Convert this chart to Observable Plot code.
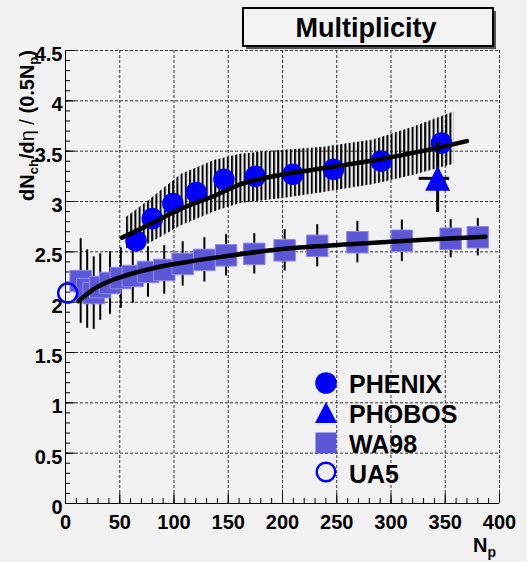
<!DOCTYPE html>
<html><head><meta charset="utf-8">
<script src="https://cdn.jsdelivr.net/npm/d3@7"></script>
<script src="https://cdn.jsdelivr.net/npm/@observablehq/plot@0.6"></script>
<style>
html,body{margin:0;padding:0;background:#f1f1f1;}
#chart{position:relative;width:527px;height:562px;}
svg{display:block}
</style></head><body><div id="chart"></div>
<script>
// ---- data ----
const xTicks = [0, 50, 100, 150, 200, 250, 300, 350, 400];
const xTickLabels = ["0", "50", "100", "150", "200", "250", "300", "350", "400"];
const yTicks = [0, 0.5, 1, 1.5, 2, 2.5, 3, 3.5, 4, 4.5];
const yTickLabels = ["0", "0.5", "1", "1.5", "2", "2.5", "3", "3.5", "4", "4.5"];

const phenixNp = [65, 80, 99, 120.5, 146, 175, 209.5, 247, 291, 346.5];
const phenixY  = [2.61, 2.83, 2.98, 3.09, 3.22, 3.25, 3.27, 3.32, 3.40, 3.58];

const bandNp = [56, 77, 107, 138, 161, 201, 238, 284, 321, 358];
const bandLo = [2.53, 2.58, 2.76, 2.90, 2.98, 3.03, 3.09, 3.17, 3.26, 3.37];
const bandHi = [2.84, 3.01, 3.27, 3.41, 3.47, 3.51, 3.54, 3.61, 3.74, 3.89];

const phenixFitNp = [52, 77, 107, 138, 161, 201, 247, 290, 333, 370];
const phenixFitY  = [2.64, 2.77, 2.93, 3.06, 3.17, 3.27, 3.345, 3.42, 3.51, 3.60];

const phobosNp = [343];
const phobosY = [3.23];
const phobosYLo = [2.89];
const phobosYHi = [3.59];
const phobosNpLo = [326];
const phobosNpHi = [354];

const wa98Np  = [14, 20, 26, 32, 41, 51, 62, 76, 91, 108, 128, 148, 174, 202, 232, 269, 310, 355, 380];
const wa98Y   = [2.21, 2.13, 2.09, 2.15, 2.19, 2.24, 2.26, 2.30, 2.32, 2.38, 2.42, 2.465, 2.48, 2.515, 2.56, 2.595, 2.61, 2.63, 2.645];
const wa98Err = [0.42, 0.39, 0.36, 0.33, 0.31, 0.30, 0.27, 0.25, 0.24, 0.22, 0.22, 0.205, 0.20, 0.205, 0.21, 0.205, 0.205, 0.19, 0.185];

const wa98FitNp = [12, 26, 42, 57, 88, 118, 143, 207, 269, 330, 387];
const wa98FitY  = [2.01, 2.13, 2.215, 2.27, 2.355, 2.41, 2.45, 2.535, 2.58, 2.62, 2.65];

const ua5Np = [2];
const ua5Y = [2.09];

const legendLabels = ["PHENIX", "PHOBOS", "WA98", "UA5"];

// ---- tables ----
const phenix = phenixNp.map((x, i) => ({x, y: phenixY[i]}));
const band = bandNp.map((x, i) => ({x, lo: bandLo[i], hi: bandHi[i]}));
const phenixFit = phenixFitNp.map((x, i) => ({x, y: phenixFitY[i]}));
const phobos = phobosNp.map((x, i) => ({x, y: phobosY[i], lo: phobosYLo[i], hi: phobosYHi[i], xlo: phobosNpLo[i], xhi: phobosNpHi[i]}));
const wa98 = wa98Np.map((x, i) => ({x, y: wa98Y[i], lo: wa98Y[i] - wa98Err[i], hi: wa98Y[i] + wa98Err[i]}));
const wa98Fit = wa98FitNp.map((x, i) => ({x, y: wa98FitY[i]}));
const ua5 = ua5Np.map((x, i) => ({x, y: ua5Y[i]}));

const minorX = d3.range(0, 401, 10);
const minorY = d3.range(0, 46, 1).map(d => d / 10);

const BLUE = "#0000ff";
const SLATE = "#5b57d6";
const font = "'Liberation Sans', Arial, Helvetica, sans-serif";

const triSym = {draw(ctx, size) { const r = Math.sqrt(size / Math.PI); ctx.moveTo(0, -r); ctx.lineTo(r, r); ctx.lineTo(-r, r); ctx.closePath(); }};
const sqSym = {draw(ctx, size) { const r = Math.sqrt(size / Math.PI); ctx.rect(-r, -r, 2 * r, 2 * r); }};

const gridStyle = {stroke: "#333", strokeOpacity: 1, strokeWidth: 1, strokeDasharray: "3,2"};

const plot = Plot.plot({
  width: 527, height: 562,
  marginLeft: 65, marginRight: 28, marginTop: 50, marginBottom: 59,
  x: {domain: [0, 400]},
  y: {domain: [0, 4.5]},
  style: {background: "transparent", fontFamily: font, color: "#000", overflow: "visible"},
  marks: [
    () => {
      const defs = d3.create("svg:defs");
      const p = defs.append("pattern").attr("id", "hatch").attr("patternUnits", "userSpaceOnUse")
        .attr("width", 4.2).attr("height", 8);
      p.append("rect").attr("x", 0).attr("y", 0).attr("width", 2).attr("height", 8).attr("fill", "#000");
      return defs.node();
    },
    Plot.gridX(xTicks.slice(1), gridStyle),
    Plot.gridY(yTicks.slice(1), gridStyle),
    Plot.ruleX([0], {stroke: "#000", strokeWidth: 1}),
    Plot.ruleY([0], {stroke: "#000", strokeWidth: 1}),
    Plot.axisX(minorX, {tickSize: -5, tickFormat: () => "", label: null}),
    Plot.axisX(xTicks, {tickSize: -10, tickFormat: () => "", label: null}),
    Plot.axisX(xTicks, {tickSize: 0, tickPadding: 11, tickFormat: d => xTickLabels[xTicks.indexOf(d)], fontSize: 20, fontWeight: "bold", label: null}),
    Plot.axisY(minorY, {tickSize: -5, tickFormat: () => "", label: null}),
    Plot.axisY(yTicks, {tickSize: -10, tickFormat: () => "", label: null}),
    Plot.axisY(yTicks, {tickSize: 0, tickPadding: 3, dy: 4, tickFormat: d => yTickLabels[yTicks.indexOf(d)], fontSize: 20, fontWeight: "bold", label: null}),
    // PHENIX systematic band (hatched)
    Plot.areaY(band, {x: "x", y1: "lo", y2: "hi", fill: "url(#hatch)"}),
    // WA98
    Plot.ruleX(wa98, {x: "x", y1: "lo", y2: "hi", stroke: "#000", strokeWidth: 2}),
    Plot.dot(wa98, {x: "x", y: "y", symbol: sqSym, r: 10.75, fill: SLATE, stroke: "#8f8bea", strokeWidth: 1}),
    Plot.line(wa98Fit, {x: "x", y: "y", curve: "monotone-x", stroke: "#000", strokeWidth: 4.5}),
    // PHENIX
    Plot.dot(phenix, {x: "x", y: "y", r: 10.8, fill: BLUE}),
    Plot.line(phenixFit, {x: "x", y: "y", curve: "monotone-x", stroke: "#000", strokeWidth: 4.5}),
    // PHOBOS
    Plot.ruleX(phobos, {x: "x", y1: "lo", y2: "hi", stroke: "#000", strokeWidth: 3}),
    Plot.ruleY(phobos, {y: "y", x1: "xlo", x2: "xhi", stroke: "#000", strokeWidth: 3}),
    Plot.dot(phobos, {x: "x", y: "y", symbol: triSym, r: 12.5, fill: BLUE}),
    // UA5
    Plot.dot(ua5, {x: "x", y: "y", r: 9.5, fill: "none", stroke: BLUE, strokeWidth: 2.5})
  ]
});

document.getElementById("chart").appendChild(plot);
const svg = d3.select(plot);

// Title box
svg.append("rect").attr("x", 246).attr("y", 11).attr("width", 250).attr("height", 38).attr("fill", "#555");
svg.append("rect").attr("x", 243).attr("y", 8).attr("width", 250).attr("height", 38)
  .attr("fill", "#f3f3f3").attr("stroke", "#000").attr("stroke-width", 2);
svg.append("text").attr("x", 366).attr("y", 37).attr("text-anchor", "middle")
  .attr("font-family", font).attr("font-weight", "bold").attr("font-size", 27).attr("fill", "#000")
  .text("Multiplicity");

// Legend
const lg = svg.append("g").attr("font-family", font).attr("font-weight", "bold").attr("font-size", 25)
  .attr("fill", "#000").attr("text-anchor", "start");
const lx = 326, ly = [383, 413, 443, 472];
lg.append("circle").attr("cx", lx).attr("cy", ly[0]).attr("r", 10.8).attr("fill", BLUE);
lg.append("path").attr("d", `M${lx},${ly[1] - 11}L${lx + 11},${ly[1] + 10}L${lx - 11},${ly[1] + 10}Z`).attr("fill", BLUE);
lg.append("rect").attr("x", lx - 10.5).attr("y", ly[2] - 10.5).attr("width", 21).attr("height", 21).attr("fill", SLATE);
lg.append("circle").attr("cx", lx).attr("cy", ly[3]).attr("r", 9.3).attr("fill", "none").attr("stroke", BLUE).attr("stroke-width", 2.5);
const lbase = [392.5, 422.5, 452.5, 482.5];
legendLabels.forEach((t, i) => lg.append("text").attr("x", 349).attr("y", lbase[i]).attr("text-anchor", "start").text(t));

// Y axis title
const yl = svg.append("text").attr("transform", "translate(34,50) rotate(-90)").attr("text-anchor", "end")
  .attr("font-family", font).attr("font-weight", "bold").attr("font-size", 20).attr("fill", "#000");
yl.append("tspan").text("dN");
yl.append("tspan").attr("font-size", 13).attr("dy", 4).text("ch");
yl.append("tspan").attr("dy", -4).text("/d");
yl.append("tspan").attr("font-weight", "normal").text("η");
yl.append("tspan").attr("font-weight", "normal").text(" / ");
yl.append("tspan").text("(0.5N");
yl.append("tspan").attr("font-size", 13).attr("dy", 4).text("p");
yl.append("tspan").attr("dy", -4).text(")");

// X axis title
const xl = svg.append("text").attr("x", 473).attr("y", 552).attr("text-anchor", "start")
  .attr("font-family", font).attr("font-weight", "bold").attr("font-size", 20).attr("fill", "#000");
xl.append("tspan").text("N");
xl.append("tspan").attr("font-size", 14).attr("dy", 5).text("p");
</script></body></html>
